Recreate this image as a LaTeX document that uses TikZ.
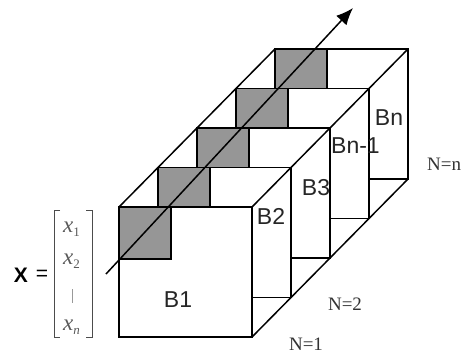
\documentclass[tikz,border=0pt]{standalone}
\usepackage{fontspec}
\setmainfont{Liberation Serif}
\setsansfont{Liberation Sans}
\usetikzlibrary{arrows.meta}
\definecolor{shadegray}{RGB}{150,150,150}
\tikzset{
  frame/.style={draw=black, fill=white, line width=1.5pt},
  shade/.style={draw=black, fill=shadegray, line width=1.5pt},
  edge/.style={draw=black, line width=1.5pt},
  blabel/.style={font=\sffamily\fontsize{23}{23}\selectfont, text=black!85, inner sep=0pt},
  nlabel/.style={font=\rmfamily\fontsize{19}{19}\selectfont, text=black!80, inner sep=0pt},
  entry/.style={font=\rmfamily\itshape\fontsize{23}{23}\selectfont, text=black!65, inner sep=0pt, anchor=base west},
  brack/.style={draw=black!70, line width=1pt},
}
\newcommand{\vecentry}[2]{#1\raisebox{-4pt}{\upshape\fontsize{13}{13}\selectfont #2}}
\begin{document}
\begin{tikzpicture}[x=1pt,y=-1pt]
\useasboundingbox (0,0) rectangle (467,354);
% frames back to front
\foreach \k in {4,3,2,1,0}{
  \coordinate (tl\k) at ({119+39*\k},{207-39.5*\k});
  \coordinate (tr\k) at ({252+39*\k},{207-39.5*\k});
  \coordinate (br\k) at ({252+39*\k},{337-39.5*\k});
  \path[frame] (tl\k) rectangle (br\k);
  \path[shade] (tl\k) rectangle ++(52,52);
}
% connecting diagonals
\draw[edge] (tl0) -- (tl4);
\draw[edge] (tr0) -- (tr4);
\draw[edge] (br0) -- (br4);
% arrow
\coordinate (as) at (106,274);
\coordinate (ae) at (353,8);
\draw[edge, -{Latex[length=17pt,width=14pt]}] (as) -- (ae);
% block labels
\node[blabel] (b1) at (178,300) {B1};
\node[blabel] (b2) at (271,216) {B2};
\node[blabel] (b3) at (316,188) {B3};
\node[blabel, anchor=west] (bn1) at (331,146) {Bn-1};
\node[blabel] (bn) at (389,118) {Bn};
% N labels
\node[nlabel] (n1) at (306,344) {N=1};
\node[nlabel] (n2) at (345,304) {N=2};
\node[nlabel, anchor=west] (nn) at (427,164) {N=n};
% vector
\node[font=\sffamily\bfseries\fontsize{21}{21}\selectfont, inner sep=0pt] (X) at (21,275) {X};
\node[font=\sffamily\fontsize{21}{21}\selectfont, inner sep=0pt] (eq) at (42,275) {=};
\draw[brack] (60,210) -- (54,210) -- (54,337) -- (60,337);
\draw[brack] (86,210) -- (92,210) -- (92,337) -- (86,337);
\node[entry] (x1) at (63,232) {\vecentry{x}{1}};
\node[entry] (x2) at (63,264) {\vecentry{x}{2}};
\draw[draw=black!40, line width=1pt] (72.5,289) -- (72.5,303);
\node[entry] (xn) at (63,330) {\vecentry{x}{\itshape n}};
\end{tikzpicture}
\end{document}
